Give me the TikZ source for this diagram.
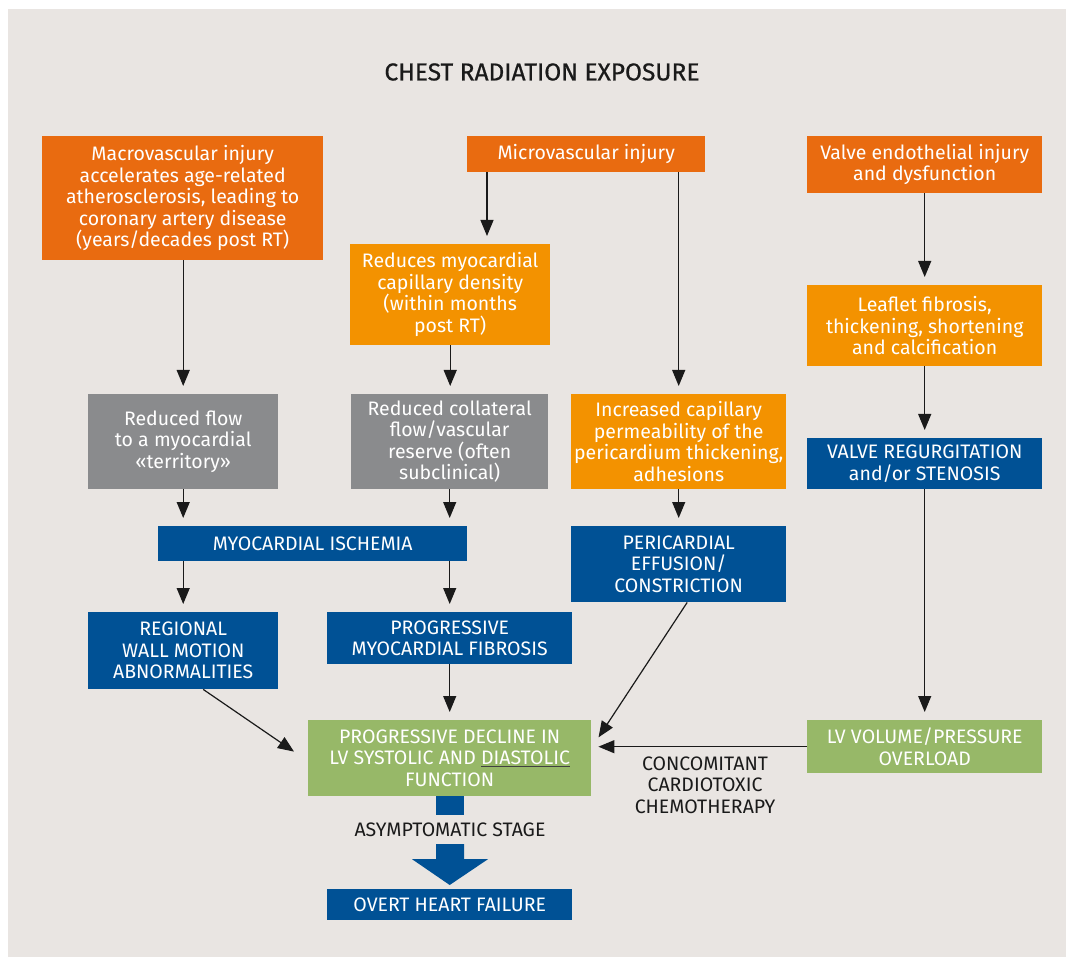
\documentclass[tikz,border=0pt]{standalone}
\usepackage{fontspec}
\setmainfont{Fira Sans}
\newfontfamily\titlefont{Fira Sans}[FakeBold=0.6]
\usetikzlibrary{arrows.meta,calc}

\definecolor{bgcol}{HTML}{E9E5E2}
\definecolor{darkorange}{HTML}{E96B10}
\definecolor{lightorange}{HTML}{F39200}
\definecolor{greybox}{HTML}{8A8B8D}
\definecolor{bluebox}{HTML}{005195}
\definecolor{greenbox}{HTML}{97B868}
\definecolor{inktext}{HTML}{1A1A1A}

\begin{document}
\begin{tikzpicture}[x=1pt, y=-1pt,
	box/.style={fill=#1, text=white, anchor=north west, align=center, inner sep=0pt,
		font=\fontsize{19.5}{21.5}\selectfont},
	label/.style={text=inktext, align=center, inner sep=0pt, font=\fontsize{19.5}{21.5}\selectfont},
	arr/.style={-{Triangle[length=16pt,width=13pt]}, line width=1.2pt, draw=inktext, shorten >=8pt}]
		\useasboundingbox (0,0) rectangle (1066,957);
		\fill[bgcol] (8,9) rectangle (1066,957);

		\coordinate (macro)    at (42,  136);
		\coordinate (micro)    at (467, 136);
		\coordinate (valve)    at (807, 136);
		\coordinate (capdens)  at (350, 244);
		\coordinate (leaflet)  at (807, 285);
		\coordinate (flow)     at (88,  394);
		\coordinate (collat)   at (351, 394);
		\coordinate (perm)     at (571, 394);
		\coordinate (regurg)   at (807, 438);
		\coordinate (isch)     at (158, 526);
		\coordinate (effus)    at (571, 526);
		\coordinate (wall)     at (88,  612);
		\coordinate (fibro)    at (327, 612);
		\coordinate (decl)     at (308, 720);
		\coordinate (overl)    at (807, 720);
		\coordinate (fail)     at (327, 889);
		\coordinate (microcap) at (487, 0);

		\node[label, font=\fontsize{24.5}{28}\titlefont] (TIT) at (542, 72) {CHEST RADIATION EXPOSURE};

		\node[box=darkorange, minimum width=281pt, minimum height=124pt] (MAC) at (macro) {Macrovascular injury\\accelerates age-related\\atherosclerosis, leading to\\coronary artery disease\\(years/decades post RT)};
		\node[box=darkorange, minimum width=238pt, minimum height=36pt] (MIC) at (micro) {Microvascular injury};
		\node[box=darkorange, minimum width=235pt, minimum height=57pt] (VAL) at (valve) {Valve endothelial injury\\and dysfunction};
		\node[box=lightorange, minimum width=200pt, minimum height=101pt] (CAP) at (capdens) {Reduces myocardial\\capillary density\\(within months\\post RT)};
		\node[box=lightorange, minimum width=235pt, minimum height=81pt] (LEA) at (leaflet) {Leaflet fibrosis,\\thickening, shortening\\and calcification};
		\node[box=greybox, minimum width=190pt, minimum height=95pt] (FLO) at (flow) {Reduced flow\\to a myocardial\\«territory»};
		\node[box=greybox, minimum width=197pt, minimum height=95pt] (COL) at (collat) {Reduced collateral\\flow/vascular\\reserve (often\\subclinical)};
		\node[box=lightorange, minimum width=215pt, minimum height=95pt] (PER) at (perm) {Increased capillary\\permeability of the\\pericardium thickening,\\adhesions};
		\node[box=bluebox, minimum width=235pt, minimum height=51pt] (REG) at (regurg) {VALVE REGURGITATION\\and/or STENOSIS};
		\node[box=bluebox, minimum width=309pt, minimum height=35pt] (ISC) at (isch) {MYOCARDIAL ISCHEMIA};
		\node[box=bluebox, minimum width=215pt, minimum height=76pt] (EFF) at (effus) {PERICARDIAL\\EFFUSION/\\CONSTRICTION};
		\node[box=bluebox, minimum width=190pt, minimum height=77pt] (WAL) at (wall) {REGIONAL\\WALL MOTION\\ABNORMALITIES};
		\node[box=bluebox, minimum width=245pt, minimum height=52pt] (FIB) at (fibro) {PROGRESSIVE\\MYOCARDIAL FIBROSIS};
		\node[box=greenbox, minimum width=283pt, minimum height=76pt] (DEC) at (decl) {PROGRESSIVE DECLINE IN\\LV SYSTOLIC AND \rlap{\color{black!75}\underline{\phantom{DIASTOLIC}}}DIASTOLIC\\FUNCTION};
		\node[box=greenbox, minimum width=235pt, minimum height=53pt] (OVE) at (overl) {LV VOLUME/PRESSURE\\OVERLOAD};
		\node[box=bluebox, minimum width=245pt, minimum height=31pt] (FAI) at (fail) {OVERT HEART FAILURE};

		\node[label] (ASY) at (450, 830) {ASYMPTOMATIC STAGE};
		\node[label] (CHE) at (705, 785) {CONCOMITANT\\CARDIOTOXIC\\CHEMOTHERAPY};

		\draw[arr] (MAC.south -| FLO.north) -- (FLO.north);
		\draw[arr] (MIC.south -| microcap) -- (CAP.north -| microcap);
		\draw[arr] (MIC.south -| PER.north) -- (PER.north);
		\draw[arr] (VAL.south) -- (LEA.north);
		\draw[arr] (CAP.south) -- (COL.north -| CAP.south);
		\draw[arr] (LEA.south) -- (REG.north);
		\draw[arr] (FLO.south) -- (ISC.north -| FLO.south);
		\draw[arr] (COL.south) -- (ISC.north -| COL.south);
		\draw[arr] (PER.south) -- (EFF.north);
		\draw[arr] (ISC.south -| WAL.north) -- (WAL.north);
		\draw[arr] (ISC.south -| FIB.north) -- (FIB.north);
		\draw[arr] (REG.south) -- (OVE.north);
		\draw[arr] (FIB.south) -- (DEC.north -| FIB.south);
		\draw[arr, shorten >=17pt] ($(WAL.south)+(20,0)$) -- ($(DEC.west)+(0,3)$);
		\draw[arr, shorten >=13pt] ($(EFF.south)+(8.5,0)$) -- ($(DEC.east)+(0,-10)$);
		\draw[arr, shorten >=7pt] (OVE.west) -- (DEC.east |- OVE.west);

		% fat arrow to overt heart failure
		\fill[bluebox] ($(DEC.south)+(-14,0)$) rectangle ++(28,19);
		\fill[bluebox] ($(ASY.south)+(-14,7)$) -- ++(28,0) -- ++(0,15) -- ++(24,0)
			-- ($(FAI.north)+(0,-4)$) -- ($(ASY.south)+(-38,22)$) -- ++(24,0) -- cycle;
	\end{tikzpicture}
\end{document}
